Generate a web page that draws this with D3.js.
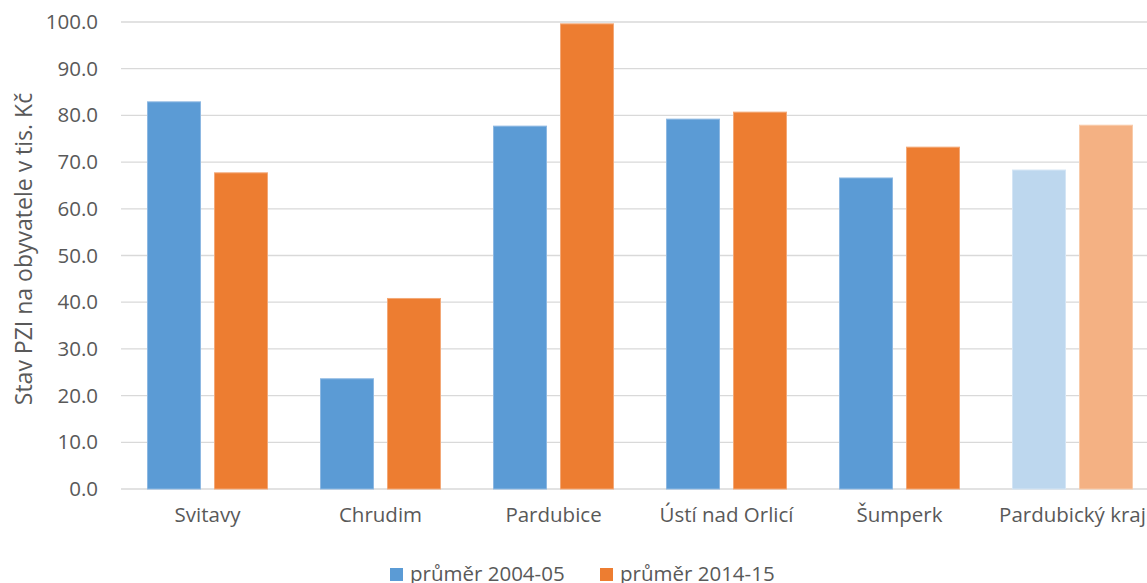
<!DOCTYPE html>
<html><head><meta charset="utf-8">
<script src="https://cdn.jsdelivr.net/npm/d3@7"></script>
<style>body{margin:0;background:#fff}svg{display:block}</style>
</head><body>
<svg id="c" width="1147" height="583"></svg>
<script>
const categories = ["Svitavy","Chrudim","Pardubice","Ústí nad Orlicí","Šumperk","Pardubický kraj"];
const series1 = [82.9, 23.6, 77.7, 79.2, 66.6, 68.3];
const series2 = [67.7, 40.8, 99.6, 80.7, 73.2, 77.9];
const seriesNames = ["průměr 2004-05","průměr 2014-15"];
const yTicks = [0,10,20,30,40,50,60,70,80,90,100];
const yTitle = "Stav PZI na obyvatele v tis. Kč";

(function(){
const font = "'Open Sans', sans-serif";
const svg = d3.select("#c");
const pLeft = 121, pRight = 1159, pTop = 22, pBottom = 489;
const x = d3.scaleBand().domain(categories).range([pLeft, pRight]);
const y = d3.scaleLinear().domain([0,100]).range([pBottom, pTop]);

const bw = 53, gap = 14;

// grid
svg.append("g").selectAll("line").data(yTicks).join("line")
  .attr("x1", pLeft).attr("x2", pRight)
  .attr("y1", d=>y(d)).attr("y2", d=>y(d))
  .attr("stroke", "#D9D9D9").attr("stroke-width", 1.3);

// y axis labels
const yAxis = d3.axisLeft(y).tickValues(yTicks).tickFormat(d3.format(".1f")).tickSize(0).tickPadding(0);
const ya = svg.append("g").attr("transform", `translate(98,0)`).call(yAxis);
ya.select(".domain").remove();
ya.selectAll("text").attr("fill","#595959").style("font-family",font).style("font-size","20.5px");

// bars
const colors = [["#5B9BD5","#ED7D31"],["#5B9BD5","#ED7D31"],["#5B9BD5","#ED7D31"],["#5B9BD5","#ED7D31"],["#5B9BD5","#ED7D31"],["#BDD7EE","#F4B183"]];
const strokeCols = [["#8DB8E2","#F3A877"],["#8DB8E2","#F3A877"],["#8DB8E2","#F3A877"],["#8DB8E2","#F3A877"],["#8DB8E2","#F3A877"],["#D4E5F5","#F8CBAA"]];
const pad = (x.bandwidth() - (2*bw+gap))/2;
categories.forEach((c,i)=>{
  [series1[i], series2[i]].forEach((v,j)=>{
    const bx = x(c) + pad + j*(bw+gap);
    svg.append("rect").attr("x", bx).attr("y", y(v)).attr("width", bw).attr("height", y(0)-y(v))
      .attr("fill", colors[i][j]).attr("stroke", strokeCols[i][j]).attr("stroke-width", 1);
  });
});

// x labels
const xAxis = d3.axisBottom(x).tickSize(0).tickPadding(0);
const xa = svg.append("g").attr("transform", `translate(0,507)`).call(xAxis);
xa.select(".domain").remove();
xa.selectAll("text").attr("fill","#595959").style("font-family",font).style("font-size","20.5px");

// y title
svg.append("text").attr("transform","translate(32,249) rotate(-90)")
  .attr("text-anchor","middle").attr("fill","#595959")
  .style("font-family",font).style("font-size","23px").text(yTitle);

// legend
const lg = [{name:seriesNames[0],col:"#5B9BD5",x:390},{name:seriesNames[1],col:"#ED7D31",x:600}];
lg.forEach(l=>{
  svg.append("rect").attr("x",l.x).attr("y",568).attr("width",13).attr("height",13).attr("fill",l.col);
  svg.append("text").attr("x",l.x+20).attr("y",581).attr("fill","#595959")
    .style("font-family",font).style("font-size","20.5px").text(l.name);
});
})();
</script>
</body></html>
